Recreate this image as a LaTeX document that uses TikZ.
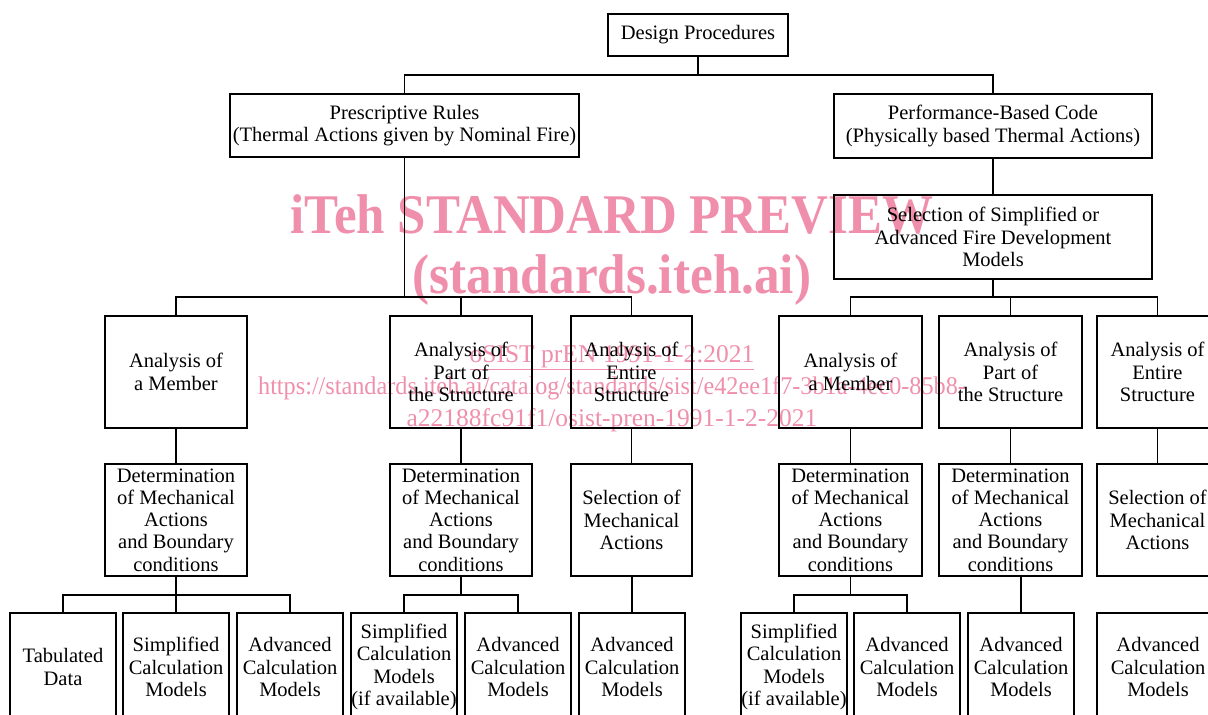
\documentclass[tikz,border=0pt]{standalone}
\usepackage{fontspec}
\setmainfont{Liberation Serif}
\definecolor{wmpink}{RGB}{240,143,172}
\newcommand\mybox[6]{\node[box,minimum width=#4pt,minimum height=#5pt] (#1) at (#2,#3) {#6};}
\begin{document}
\begin{tikzpicture}[x=1pt,y=-1pt,
  box/.style={draw, line width=1.6pt, inner sep=0pt, align=center, font=\fontsize{20.5}{22.3}\selectfont},
  conn/.style={line width=1.6pt},
  wmbig/.style={text=wmpink, inner sep=0pt, anchor=base, font=\fontsize{56}{60}\selectfont\bfseries},
  wmsmall/.style={text=wmpink, inner sep=0pt, anchor=base, font=\fontsize{25.5}{30}\selectfont}]
\useasboundingbox (0,0) rectangle (1208,715);
\clip (0,0) rectangle (1208,715);
% watermark
\node[wmbig] (wm1) at (612,233) {\scalebox{0.91}[1]{iTeh STANDARD PREVIEW}};
\node[wmbig] (wm2) at (612,293) {\scalebox{0.915}[1]{(standards.iteh.ai)}};
\node[wmsmall] (wm3) at (612,362) {\underline{oSIST prEN 1991-1-2:2021}};
\node[wmsmall] (wm4) at (612,394) {\scalebox{0.95}[1]{https://standards.iteh.ai/catalog/standards/sist/e42ee1f7-3b1a-4ec0-85b8-}};
\node[wmsmall] (wm5) at (612,426) {a22188fc91f1/osist-pren-1991-1-2-2021};
% top
\mybox{dp}{698}{35}{180}{42}{Design Procedures}
\mybox{pr}{404.5}{125.5}{349}{63}{Prescriptive Rules\\(Thermal Actions given by Nominal Fire)}
\mybox{pb}{993}{126}{318}{64}{Performance-Based Code\\(Physically based Thermal Actions)}
\mybox{sel}{993}{237}{318}{84}{Selection of Simplified or\\Advanced Fire Development\\Models}
% row 3
\mybox{a1}{176}{372}{142}{112}{Analysis of\\a Member}
\mybox{a2}{461}{372}{142}{112}{Analysis of\\Part of\\the Structure}
\mybox{a3}{631.5}{372}{121}{112}{Analysis of\\Entire\\Structure}
\mybox{a4}{850.5}{372}{143}{112}{Analysis of\\a Member}
\mybox{a5}{1010.5}{372}{143}{112}{Analysis of\\Part of\\the Structure}
\mybox{a6}{1157.5}{372}{121}{112}{Analysis of\\Entire\\Structure}
% row 4
\mybox{d1}{176}{520}{142}{112}{Determination\\of Mechanical\\Actions\\and Boundary\\conditions}
\mybox{d2}{461}{520}{142}{112}{Determination\\of Mechanical\\Actions\\and Boundary\\conditions}
\mybox{d3}{631.5}{520}{121}{112}{Selection of\\Mechanical\\Actions}
\mybox{d4}{850.5}{520}{143}{112}{Determination\\of Mechanical\\Actions\\and Boundary\\conditions}
\mybox{d5}{1010.5}{520}{143}{112}{Determination\\of Mechanical\\Actions\\and Boundary\\conditions}
\mybox{d6}{1157.5}{520}{121}{112}{Selection of\\Mechanical\\Actions}
% row 5
\mybox{b1}{63}{667}{106}{108}{Tabulated\\Data}
\mybox{b2}{176}{667}{106}{108}{Simplified\\Calculation\\Models}
\mybox{b3}{290}{667}{106}{108}{Advanced\\Calculation\\Models}
\mybox{b4}{404}{667}{106}{108}{Simplified\\Calculation\\Models\\(if available)}
\mybox{b5}{518}{667}{106}{108}{Advanced\\Calculation\\Models}
\mybox{b6}{632}{667}{106}{108}{Advanced\\Calculation\\Models}
\mybox{b7}{794}{667}{106}{108}{Simplified\\Calculation\\Models\\(if available)}
\mybox{b8}{907}{667}{106}{108}{Advanced\\Calculation\\Models}
\mybox{b9}{1021}{667}{106}{108}{Advanced\\Calculation\\Models}
\mybox{b10}{1158}{667}{122}{108}{Advanced\\Calculation\\Models}
% bus coordinates
\coordinate (bus0) at (0,75);
\coordinate (bus1) at (0,297);
\coordinate (bus2) at (0,595);
% connectors
\draw[conn] (dp.south) -- (dp.south |- bus0);
\draw[conn] (pr.north) -- (pr.north |- bus0) -| (pb.north);
\draw[conn] (pb.south) -- (sel.north);
\draw[conn] (pr.south) -- (pr.south |- bus1);
\draw[conn] (a1.north) -- (a1.north |- bus1) -| (a3.north);
\draw[conn] (a2.north) -- (a2.north |- bus1);
\draw[conn] (sel.south) -- (sel.south |- bus1);
\draw[conn] (a4.north) -- (a4.north |- bus1) -| (a6.north);
\draw[conn] (a5.north) -- (a5.north |- bus1);
\foreach \i in {1,...,6}{\draw[conn] (a\i.south) -- (d\i.north);}
\draw[conn] (d1.south) -- (d1.south |- bus2);
\draw[conn] (b1.north) -- (b1.north |- bus2) -| (b3.north);
\draw[conn] (b2.north) -- (b2.north |- bus2);
\draw[conn] (d2.south) -- (d2.south |- bus2);
\draw[conn] (b4.north) -- (b4.north |- bus2) -| (b5.north);
\draw[conn] (d3.south) -- (b6.north |- d3.south) -- (b6.north);
\draw[conn] (d4.south) -- (d4.south |- bus2);
\draw[conn] (b7.north) -- (b7.north |- bus2) -| (b8.north);
\draw[conn] (b9.north |- d5.south) -- (b9.north);
\end{tikzpicture}
\end{document}
